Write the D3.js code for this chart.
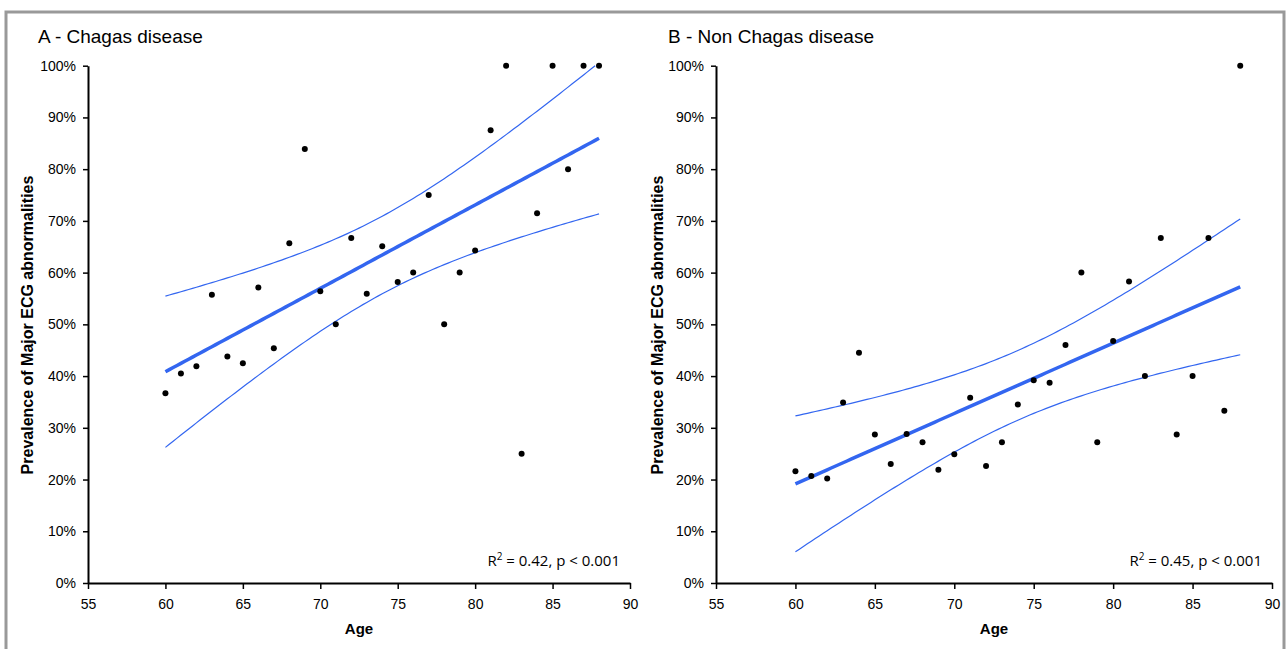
<!DOCTYPE html>
<html>
<head>
<meta charset="utf-8">
<script src="https://cdn.jsdelivr.net/npm/d3@7"></script>
<style>
  body { margin: 0; background: #fff; }
  svg { display: block; }
  .tick text { font-family: "Liberation Sans", Arial, sans-serif; font-size: 14px; fill: #000; }
</style>
</head>
<body>
<div id="chart"></div>
<script>
// ages on the x axis, one point per year
var ages = d3.range(60, 89);

// prevalence (%)
var chagasValues = [36.7, 40.5, 41.9, 55.7, 43.8, 42.5, 57.1, 45.4, 65.7, 83.9,
  56.4, 50.0, 66.7, 55.9, 65.1, 58.2, 60.0, 75.0, 50.0, 60.0,
  64.3, 87.5, 100, 25.0, 71.5, 100, 80.0, 100, 100];
var nonChagasValues = [21.6, 20.7, 20.2, 34.9, 44.5, 28.7, 23.0, 28.8, 27.2, 21.9,
  24.9, 35.8, 22.6, 27.2, 34.5, 39.2, 38.7, 46.0, 60.0, 27.2,
  46.8, 58.3, 40.0, 66.7, 28.7, 40.0, 66.7, 33.3, 100];

var xTicks = [55, 60, 65, 70, 75, 80, 85, 90];
var yTicks = [0, 10, 20, 30, 40, 50, 60, 70, 80, 90, 100];
var panelTitles = ["A - Chagas disease", "B - Non Chagas disease"];
var statLabels = [["0.42", "0.001"], ["0.45", "0.001"]];

var W = 1287, H = 649;
var blue = "#3366f0";

var svg = d3.select("#chart").append("svg")
  .attr("width", W)
  .attr("height", H);

// grey frame round the figure
svg.append("rect")
  .attr("x", 6).attr("y", 12)
  .attr("width", 1278).attr("height", 660)
  .attr("fill", "none")
  .attr("stroke", "#999")
  .attr("stroke-width", 3);

var panels = [
  { title: panelTitles[0], values: chagasValues, stat: statLabels[0], x0: 88, x1: 630, labelX: 33, titleX: 38 },
  { title: panelTitles[1], values: nonChagasValues, stat: statLabels[1], x0: 716, x1: 1272, labelX: 663, titleX: 668 }
];

// least squares fit with confidence band for the mean
function fit(xs, ys) {
  var n = xs.length,
    xbar = d3.mean(xs),
    ybar = d3.mean(ys);
  var sxx = d3.sum(xs, function(x) { return (x - xbar) * (x - xbar); });
  var sxy = d3.sum(xs, function(x, i) { return (x - xbar) * (ys[i] - ybar); });
  var b = sxy / sxx, a = ybar - b * xbar;
  var sse = d3.sum(xs, function(x, i) { var r = ys[i] - (a + b * x); return r * r; });
  var s = Math.sqrt(sse / (n - 2));
  var t = 2.6; // band in the figure is a bit wider than a plain 95% t band
  return function(x) {
    var yhat = a + b * x;
    var h = t * s * Math.sqrt(1 / n + (x - xbar) * (x - xbar) / sxx);
    return { x: x, fit: yhat, lo: yhat - h, hi: yhat + h };
  };
}

panels.forEach(function(p) {
  var x = d3.scaleLinear().domain([55, 90]).range([p.x0, p.x1]);
  var y = d3.scaleLinear().domain([0, 100]).range([583, 65.7]);
  var g = svg.append("g");

  // axes
  g.append("g")
    .attr("transform", "translate(0,583)")
    .call(d3.axisBottom(x).tickValues(xTicks).tickSize(6).tickPadding(10).tickSizeOuter(0))
    .call(function(a) {
      a.select(".domain").attr("stroke", "#000").attr("stroke-width", 2);
      a.selectAll(".tick line").attr("stroke-width", 1.5);
    });
  g.append("g")
    .attr("transform", "translate(" + p.x0 + ",0)")
    .call(d3.axisLeft(y).tickValues(yTicks).tickFormat(function(d) { return d + "%"; })
      .tickSize(5).tickPadding(7).tickSizeOuter(0))
    .call(function(a) {
      a.select(".domain").attr("stroke", "#000").attr("stroke-width", 2);
      a.selectAll(".tick line").attr("stroke-width", 1.5);
    });

  // regression and confidence band
  var f = fit(ages, p.values);
  var band = d3.range(60, 88.01, 0.25).map(f);
  var line = function(key) {
    return d3.line().x(function(d) { return x(d.x); }).y(function(d) { return y(Math.min(d[key], 100)); });
  };
  g.append("path").datum(band.filter(function(d) { return d.hi <= 100.5; }))
    .attr("d", line("hi")).attr("fill", "none").attr("stroke", blue).attr("stroke-width", 1.2);
  g.append("path").datum(band)
    .attr("d", line("lo")).attr("fill", "none").attr("stroke", blue).attr("stroke-width", 1.2);
  g.append("path").datum(band)
    .attr("d", line("fit")).attr("fill", "none").attr("stroke", blue).attr("stroke-width", 3.5);

  // points
  g.selectAll("circle.pt")
    .data(ages)
    .enter()
    .append("circle")
    .attr("class", "pt")
    .attr("cx", function(d) { return x(d); })
    .attr("cy", function(d, i) { return y(p.values[i]); })
    .attr("r", 3)
    .attr("fill", "#000");

  // panel title
  g.append("text")
    .attr("x", p.titleX).attr("y", 43)
    .attr("font-family", "'Liberation Sans Narrow', 'Arial Narrow', 'Liberation Sans', sans-serif")
    .attr("font-size", "19px")
    .text(p.title);

  // axis titles
  g.append("text")
    .attr("x", (p.x0 + p.x1) / 2).attr("y", 634)
    .attr("text-anchor", "middle")
    .attr("font-family", "'Liberation Sans', Arial, sans-serif")
    .attr("font-weight", "bold").attr("font-size", "15px")
    .text("Age");
  g.append("text")
    .attr("transform", "translate(" + p.labelX + ",325) rotate(-90)")
    .attr("text-anchor", "middle")
    .attr("font-family", "'Liberation Sans', Arial, sans-serif")
    .attr("font-weight", "bold").attr("font-size", "16px")
    .text("Prevalence of Major ECG abnormalities");

  // R squared note
  var st = g.append("text")
    .attr("x", p.x1 - 10).attr("y", 566)
    .attr("text-anchor", "end")
    .attr("font-family", "'Open Sans', 'Liberation Sans', sans-serif")
    .attr("font-size", "15px");
  st.append("tspan").text("R");
  st.append("tspan").attr("dy", -6).attr("font-size", "10px").text("2");
  st.append("tspan").attr("dy", 6).text(" = " + p.stat[0] + ", p < " + p.stat[1]);
});
</script>
</body>
</html>
